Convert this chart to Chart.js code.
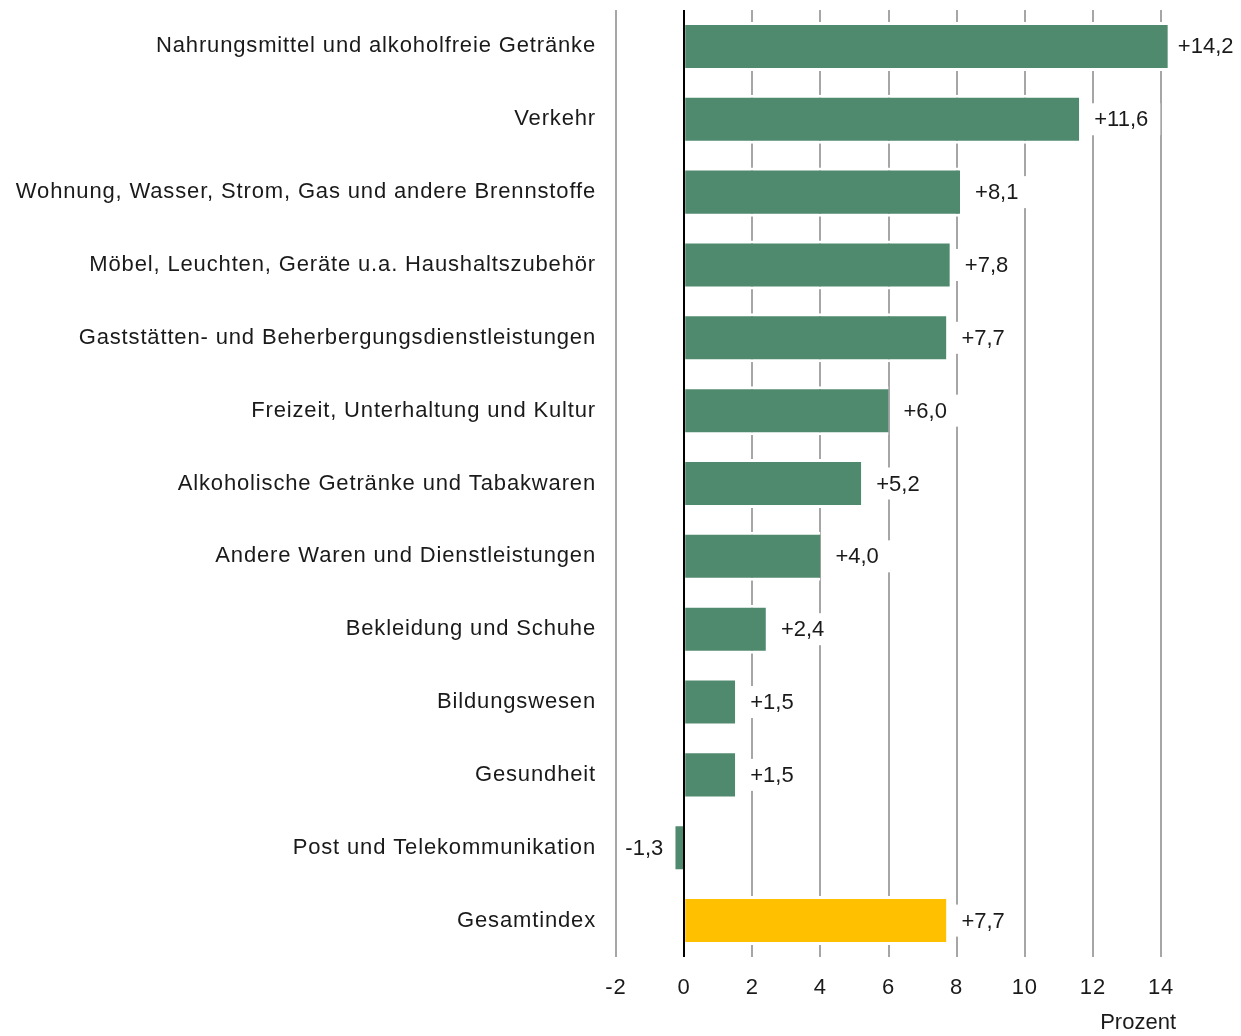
<!doctype html>
<html lang="de">

<head>
    <title>Verbraucherpreise</title>
    <meta charset="utf-8">
    <style type="text/css">
        body,
        html {
            margin: 0;
            padding: 0;
            background: #fff;
            overflow: hidden;
        }

        .chart-container {
            position: relative;
            width: 1241px;
            height: 1036px;
        }
    </style>
    <script src="https://cdn.jsdelivr.net/npm/chart.js@4/dist/chart.umd.min.js"></script>
</head>

<body>
    <div class="chart-container"><canvas id="chart"></canvas></div>
    <script>
        const categories = [
            "Nahrungsmittel und alkoholfreie Getränke",
            "Verkehr",
            "Wohnung, Wasser, Strom, Gas und andere Brennstoffe",
            "Möbel, Leuchten, Geräte u.a. Haushaltszubehör",
            "Gaststätten- und Beherbergungsdienstleistungen",
            "Freizeit, Unterhaltung und Kultur",
            "Alkoholische Getränke und Tabakwaren",
            "Andere Waren und Dienstleistungen",
            "Bekleidung und Schuhe",
            "Bildungswesen",
            "Gesundheit",
            "Post und Telekommunikation",
            "Gesamtindex",
        ];
        // bar lengths as drawn in the picture (the -1,3 bar is drawn short there)
        const values = [14.2, 11.6, 8.1, 7.8, 7.7, 6.0, 5.2, 4.0, 2.4, 1.5, 1.5, -0.26, 7.7];
        const valueLabels = ["+14,2", "+11,6", "+8,1", "+7,8", "+7,7", "+6,0", "+5,2", "+4,0", "+2,4", "+1,5", "+1,5", "-1,3", "+7,7"];
        const xTicks = [-2, 0, 2, 4, 6, 8, 10, 12, 14];
        const axisTitle = "Prozent";

        const green = "#508a6e";
        const yellow = "#ffc000";
        const font = "Liberation Sans, Arial, sans-serif";
        const textColor = "#1a1a1a";

        const barColors = categories.map((c) => c === "Gesamtindex" ? yellow : green);

        // the category labels in the picture are a bit letter-spaced
        const spacing = {
            id: "spacing",
            beforeDraw(chart) {
                chart.ctx.letterSpacing = "0.85px";
            },
            beforeDatasetsDraw(chart) {
                chart.ctx.letterSpacing = "0px";
            },
        };

        const overlay = {
            id: "overlay",
            afterDatasetsDraw(chart) {
                const ctx = chart.ctx;
                const area = chart.chartArea;
                const xs = chart.scales.x;
                const meta = chart.getDatasetMeta(0);

                // zero line on top of the bars
                const x0 = Math.round(xs.getPixelForValue(0));
                ctx.save();
                ctx.strokeStyle = "#000";
                ctx.lineWidth = 2;
                ctx.beginPath();
                ctx.moveTo(x0, area.top);
                ctx.lineTo(x0, area.bottom);
                ctx.stroke();

                // value labels on white boxes
                ctx.font = "22px " + font;
                ctx.textBaseline = "middle";
                meta.data.forEach((bar, i) => {
                    const txt = valueLabels[i];
                    const w = ctx.measureText(txt).width;
                    const y = bar.y;
                    ctx.fillStyle = "#fff";
                    if (values[i] >= 0) {
                        const tx = bar.x + (i === 0 ? 10 : 15);
                        ctx.fillRect(bar.x + 2, y - 16, tx - bar.x - 2 + w + 12, 32);
                        ctx.fillStyle = textColor;
                        ctx.textAlign = "left";
                        ctx.fillText(txt, tx, y + 1);
                    } else {
                        const tx = bar.x - 12;
                        ctx.fillRect(tx - w - 8, y - 16, w + 18, 32);
                        ctx.fillStyle = textColor;
                        ctx.textAlign = "right";
                        ctx.fillText(txt, tx, y + 1);
                    }
                });

                // axis title under the ticks
                ctx.fillStyle = textColor;
                ctx.textAlign = "right";
                ctx.fillText(axisTitle, area.right + 15, 1023);
                ctx.restore();
            },
        };

        const ctx = document.getElementById("chart").getContext("2d");
        new Chart(ctx, {
            type: "bar",
            data: {
                labels: categories,
                datasets: [{
                    data: values,
                    backgroundColor: barColors,
                    borderColor: "#fff",
                    borderWidth: { top: 3, bottom: 3, left: 0, right: 0 },
                    borderSkipped: false,
                    categoryPercentage: 1,
                    barPercentage: 0.673,
                    clip: false,
                }, ],
            },
            options: {
                indexAxis: "y",
                responsive: true,
                maintainAspectRatio: false,
                animation: false,
                devicePixelRatio: 1,
                layout: {
                    padding: { top: 10, right: 80, left: 0, bottom: 0 },
                },
                plugins: {
                    legend: { display: false },
                    tooltip: { enabled: false },
                },
                scales: {
                    x: {
                        min: -2,
                        max: 14,
                        afterBuildTicks: (scale) => {
                            scale.ticks = xTicks.map((v) => ({ value: v }));
                        },
                        afterFit: (scale) => {
                            scale.height = 79;
                            scale.paddingLeft = 0;
                            scale.paddingRight = 0;
                        },
                        grid: {
                            color: "#a6a6a6",
                            lineWidth: 2,
                            drawTicks: false,
                        },
                        border: { display: false },
                        ticks: {
                            padding: 18,
                            color: textColor,
                            font: { family: font, size: 22 },
                        },
                    },
                    y: {
                        afterFit: (scale) => {
                            scale.width = 616;
                            scale.paddingTop = 0;
                            scale.paddingBottom = 0;
                        },
                        grid: { display: false, drawTicks: false },
                        border: { display: false },
                        ticks: {
                            padding: 20,
                            color: textColor,
                            font: { family: font, size: 22 },
                        },
                    },
                },
            },
            plugins: [spacing, overlay],
        });
    </script>
</body>

</html>
